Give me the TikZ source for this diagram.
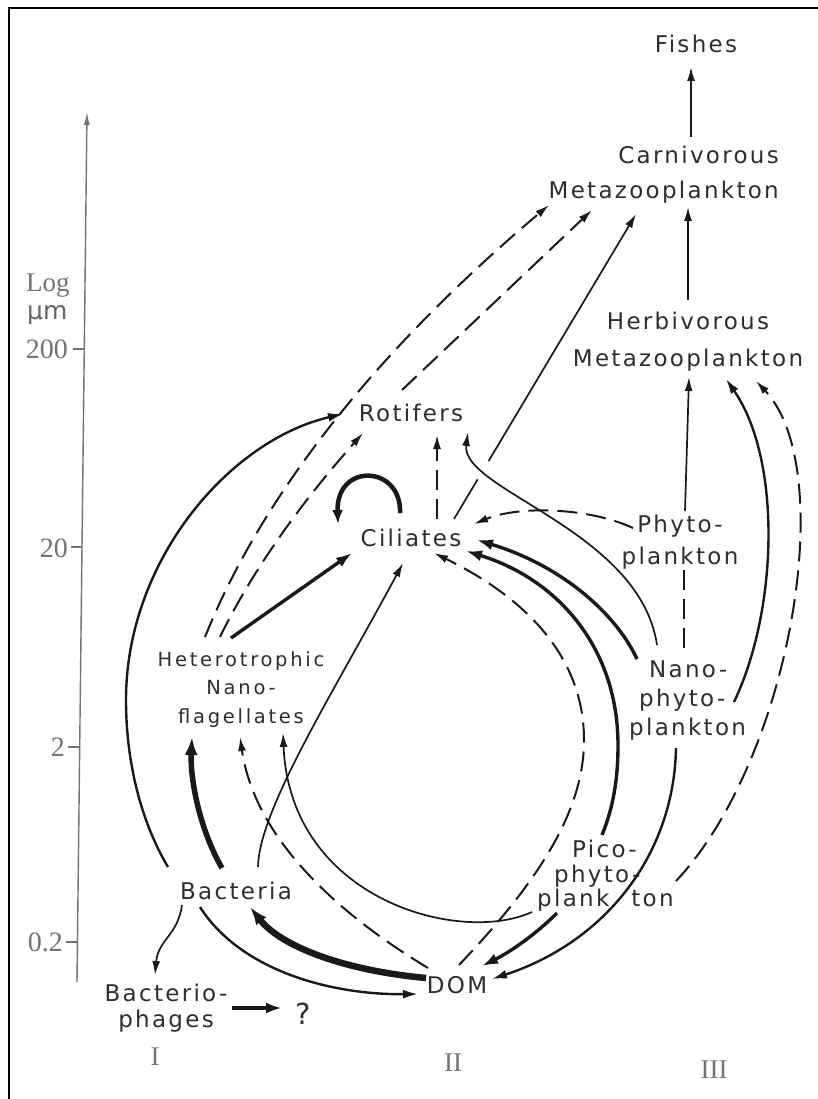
\documentclass[tikz,border=0pt]{standalone}
\usepackage{fontspec}
\usetikzlibrary{arrows.meta,calc}
\newfontfamily\labf[LetterSpace=10]{DejaVu Sans}
\newfontfamily\labh[LetterSpace=14]{DejaVu Sans}
\newfontfamily\labu{DejaVu Sans}
\newfontfamily\serf{Liberation Serif}
\tikzset{
  lab/.style={font=\labf\fontsize{23}{#1}\selectfont, text=black!82, inner sep=0pt},
  lab/.default=28,
  labhnf/.style={font=\labh\fontsize{19.5}{28.5}\selectfont, text=black!82, inner sep=0pt},
  serlab/.style={font=\serf\fontsize{27}{27}\selectfont, text=black!55, inner sep=0pt},
  ticklab/.style={font=\serf\fontsize{28}{28}\selectfont, text=black!55, inner sep=0pt, anchor=base east},
  ln/.style={draw=black!90, line width=1.7pt, -{Latex[length=14pt,width=8pt]}},
  lnm/.style={draw=black!90, line width=2.4pt, -{Latex[length=15pt,width=9pt]}},
  lnt/.style={draw=black!90, line width=3.4pt, -{Latex[length=16pt,width=11pt]}},
  lnv/.style={draw=black!90, line width=5.5pt, -{Latex[length=18pt,width=13pt]}},
  lnloop/.style={draw=black!90, line width=4.5pt, -{Latex[length=14pt,width=11pt]}},
  dsh/.style={draw=black!90, line width=2pt, dash pattern=on 20pt off 9pt, -{Latex[length=14pt,width=8pt]}},
  dshp/.style={draw=black!90, line width=2pt, dash pattern=on 20pt off 9pt},
  axisln/.style={draw=black!55, line width=1.4pt},
}
\begin{document}
\begin{tikzpicture}[x=1pt,y=-1pt]
\useasboundingbox (0,0) rectangle (818,1099);
\fill[white] (0,0) rectangle (818,1099);
% frame
\draw[line width=2.5pt] (9,1099) -- (9,8) -- (818,8);

% size axis
\coordinate (ax0) at (77,982);
\coordinate (ax1) at (87,112);
\draw[axisln,-{Latex[length=13pt,width=6pt]}] (ax0) -- (ax1);
\draw[axisln] (73,349) -- (84.3,349);
\draw[axisln] (71,547) -- (82,547);
\draw[axisln] (68,747) -- (79.7,747);
\draw[axisln] (66,942) -- (77.5,942);
\node[ticklab] (t200) at (68,358) {200};
\node[ticklab] (t20) at (68,557) {20};
\node[ticklab] (t2) at (65,756) {2};
\node[ticklab] (t02) at (63,951) {0.2};
\node[serlab,anchor=base west] (log) at (26,291) {Log};
\node[font=\labu\fontsize{25}{25}\selectfont, text=black!60, inner sep=0pt, anchor=base west] (um) at (27,319) {μm};

% organisms
\node[lab,anchor=base] (fish) at (696,53) {Fishes};
\node[lab=35,anchor=north east,align=right] (carn) at (779,146) {Carnivorous\\Metazooplankton};
\node[lab=36.5,anchor=north,align=center] (herb) at (688,312) {Herbivorous\\Metazooplankton};
\node[lab,anchor=base] (rot) at (411,421) {Rotifers};
\node[lab,anchor=base] (cil) at (411,546) {Ciliates};
\node[lab=32,anchor=north,align=center] (phyto) at (680,515) {Phyto-\\plankton};
\node[labhnf,anchor=north,align=center] (hnf) at (241,651) {Heterotrophic\\Nano-\\flagellates};
\node[lab=29,anchor=north west,align=left] (nano) at (629,661) {\hspace*{20pt}Nano-\\\hspace*{10pt}phyto-\\plankton};
\node[lab=24.5,anchor=north west,align=left] (pico) at (537,840) {\hspace*{35pt}Pico-\\\hspace*{17pt}phyto-\\plank\hspace{22pt}ton};
\node[lab,anchor=base] (bact) at (236,899) {Bacteria};
\node[lab=26,anchor=north,align=center] (phage) at (166,984) {Bacterio-\\phages};
\node[lab,anchor=base,font=\labu\fontsize{29}{29}\selectfont] (q) at (303,1024) {?};
\node[lab,anchor=base] (dom) at (457,993) {DOM};
\node[serlab,anchor=base] (r1) at (155,1065) {I};
\node[serlab,anchor=base] (r2) at (453,1071) {II};
\node[serlab,anchor=base] (r3) at (714,1078) {III};

% upper food chain
\draw[ln] ([shift={(-88,-9)}]carn.north east) -- ([shift={(-5,14)}]fish.base);
\draw[ln] ([shift={(0,-12)}]herb.north) -- ([shift={(-91,61)}]carn.north east);
\draw[ln] ([shift={(5,-4)}]phyto.north) -- ([shift={(1,65)}]herb.north);
\draw[lnm] ([shift={(105,41)}]nano.north west) .. controls (778,610) and (782,460) .. ([shift={(38,67)}]herb.north);
\draw[dsh] ([shift={(139,41)}]pico.north west) .. controls (790,760) and (840,470) .. ([shift={(68,69)}]herb.north);
\draw[dshp] ([shift={(4,55)}]phyto.north) -- ([shift={(55,-7)}]nano.north west);

% to carnivorous metazooplankton
\draw[dsh] ([shift={(-36,-14)}]hnf.north) .. controls (262,495) and (376,351) .. ([shift={(-230,59)}]carn.north east);
\draw[dsh] ([shift={(-9,-31)}]rot.base) -- ([shift={(-187,64)}]carn.north east);
\coordinate (cA) at ([shift={(43,-27)}]cil.base);
\coordinate (cB) at ([shift={(-143,68)}]carn.north east);
\draw[ln] (cA) -- ($(cA)!0.13!(cB)$) ($(cA)!0.19!(cB)$) -- (cB);

% to rotifers
\draw[lnm] ([shift={(-68,-32)}]bact.base) .. controls (140,820) and (126,760) .. (126,700) .. controls (126,560) and (230,440) .. ([shift={(-68,-7)}]rot.base);
\draw[dsh] ([shift={(-21,-14)}]hnf.north) .. controls (251,573) and (299,505) .. ([shift={(-48,12)}]rot.base);
\draw[dsh] ([shift={(26,-27)}]cil.base) -- ([shift={(26,14)}]rot.base);
\draw[ln] ([shift={(28,-16)}]nano.north west) .. controls (640,530) and (460,490) .. ([shift={(57,11)}]rot.base);

% to ciliates
\draw[lnloop] ([shift={(-11,-33)}]cil.base) .. controls (402,465) and (336,462) .. ([shift={(-73,-22)}]cil.base);
\draw[lnt] ([shift={(-10,-13)}]hnf.north) -- ([shift={(-59,7)}]cil.base);
\draw[ln] ([shift={(22,-32)}]bact.base) .. controls (259,810) and (332,695) .. ([shift={(-8,17)}]cil.base);
\draw[dsh] ([shift={(-47,13)}]phyto.north) .. controls (590,508) and (520,505) .. ([shift={(63,-22)}]cil.base);
\draw[lnt] ([shift={(8,-2)}]nano.north west) .. controls (615,612) and (560,565) .. ([shift={(66,-6)}]cil.base);
\draw[lnt] ([shift={(65,-5)}]pico.north west) .. controls (613,808) and (618,780) .. (618,745) .. controls (618,650) and (560,580) .. ([shift={(55,5)}]cil.base);
\draw[dsh] ([shift={(2,-28)}]dom.base) .. controls (540,880) and (584,810) .. (584,740) .. controls (584,660) and (530,600) .. ([shift={(23,7)}]cil.base);

% to heterotrophic nanoflagellates
\draw[lnv] ([shift={(-14,-31)}]bact.base) .. controls (200,830) and (190,780) .. ([shift={(-49,86)}]hnf.north);
\draw[dsh] ([shift={(-29,-25)}]dom.base) .. controls (340,915) and (255,840) .. ([shift={(-1,86)}]hnf.north);
\draw[ln] ([shift={(-5,72)}]pico.north west) .. controls (460,945) and (290,900) .. ([shift={(42,82)}]hnf.north);

% bottom: bacteria, DOM, phages
\draw[lnv,line width=6.5pt] ([shift={(-31,-15)}]dom.base) .. controls (340,970) and (280,945) .. ([shift={(14,8)}]bact.base);
\draw[lnm] ([shift={(-36,8)}]bact.base) .. controls (240,970) and (330,995) .. ([shift={(-39,1)}]dom.base);
\draw[ln] ([shift={(-54,6)}]bact.base) .. controls (178,935) and (158,940) .. ([shift={(-11,-9)}]phage.north);
\draw[lnt,line width=4.5pt] ([shift={(66,24)}]phage.north) -- ([shift={(-21,-16)}]q.base);
\draw[lnt] ([shift={(20,73)}]pico.north west) .. controls (535,935) and (510,952) .. ([shift={(25,-27)}]dom.base);
\draw[lnm] ([shift={(47,87)}]nano.north west) .. controls (674,855) and (605,942) .. ([shift={(35,-14)}]dom.base);
\end{tikzpicture}
\end{document}
